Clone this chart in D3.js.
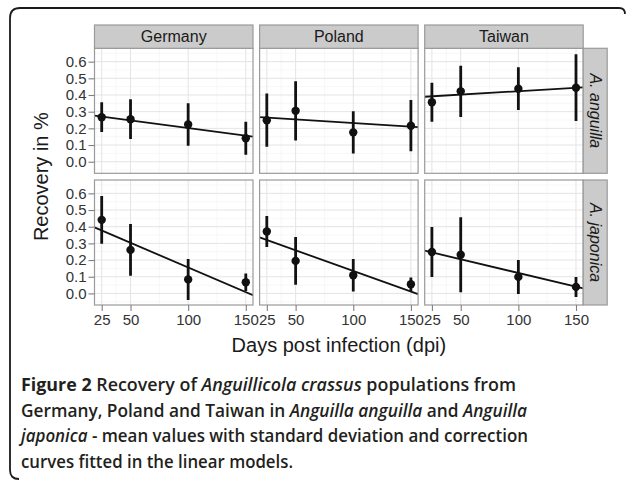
<!DOCTYPE html>
<html>
<head>
<meta charset="utf-8">
<script src="https://cdn.jsdelivr.net/npm/d3@7"></script>
<style>
  body { margin: 0; background: #fff; }
  .tick text { font-family: "Liberation Sans", Arial, sans-serif; }
</style>
</head>
<body>
<div id="chart"></div>
<script>
// facets
const countries = ["Germany", "Poland", "Taiwan"];
const hosts = ["A. anguilla", "A. japonica"];
const days = [25, 50, 100, 150];
const xTicks = [25, 50, 100, 150];
const yTicks = [0, 0.1, 0.2, 0.3, 0.4, 0.5, 0.6];

// mean recovery, one array per host, rows = Germany, Poland, Taiwan
const meanAnguilla = [
    [0.267, 0.255, 0.223, 0.141],
    [0.249, 0.305, 0.176, 0.216],
    [0.357, 0.422, 0.438, 0.444]
];
const meanJaponica = [
    [0.441, 0.261, 0.084, 0.067],
    [0.371, 0.195, 0.109, 0.055],
    [0.248, 0.232, 0.099, 0.039]
];
// standard deviations
const sdAnguilla = [
    [0.089, 0.119, 0.128, 0.099],
    [0.160, 0.178, 0.127, 0.154],
    [0.117, 0.154, 0.128, 0.200]
];
const sdJaponica = [
    [0.143, 0.155, 0.123, 0.053],
    [0.093, 0.143, 0.098, 0.040],
    [0.150, 0.225, 0.102, 0.060]
];
// fitted lines (intercept, slope per day)
const fitInterceptAnguilla = [0.294, 0.275, 0.382];
const fitSlopeAnguilla = [-0.000916, -0.000436, 0.000407];
const fitInterceptJaponica = [0.451, 0.382, 0.287];
const fitSlopeJaponica = [-0.002953, -0.002473, -0.001644];

const captionLines = [
    [["Figure 2 ", "bold"], ["Recovery of ", ""], ["Anguillicola crassus", "italic"], [" populations from", ""]],
    [["Germany, Poland and Taiwan in ", ""], ["Anguilla anguilla", "italic"], [" and ", ""], ["Anguilla", "italic"]],
    [["japonica", "italic"], [" - mean values with standard deviation and correction", ""]],
    [["curves fitted in the linear models.", ""]]
];
const captionWidths = [495, 506, 507, 272];

const width = 627, height = 482;
const plotLeft = 94.5, plotTop = 48.3;
const panelW = 158.5, panelH = 125, gapX = 6.6, gapY = 6.7;
const stripH = 23.3, stripW = 24;

const svg = d3.select("#chart").append("svg")
    .attr("width", width)
    .attr("height", height);

// figure frame (open at bottom right like the journal box)
svg.append("path")
    .attr("d", "M19,479 Q10,479 10,470 L10,18 Q10,8 20,8 L619,8 Q625,8 625,14")
    .attr("fill", "none")
    .attr("stroke", "#1a1a1a")
    .attr("stroke-width", 1.8);

const x = d3.scaleLinear().domain([18.75, 156.25]).range([0, panelW]);
const y = d3.scaleLinear().domain([-0.0695, 0.68]).range([panelH, 0]);

const yMinor = d3.range(-0.05, 0.7, 0.1);
const xMinor = [37.5, 75, 125];

const allMeans = [meanAnguilla, meanJaponica];
const allSd = [sdAnguilla, sdJaponica];
const allIntercept = [fitInterceptAnguilla, fitInterceptJaponica];
const allSlope = [fitSlopeAnguilla, fitSlopeJaponica];

hosts.forEach((host, r) => {
    countries.forEach((country, c) => {
        const px = plotLeft + c * (panelW + gapX);
        const py = plotTop + r * (panelH + gapY);
        const g = svg.append("g").attr("transform", `translate(${px},${py})`);

        g.append("rect")
            .attr("width", panelW).attr("height", panelH)
            .attr("fill", "#fff");

        const clipId = `clip${r}${c}`;
        g.append("clipPath").attr("id", clipId)
            .append("rect").attr("width", panelW).attr("height", panelH);

        // grid
        g.selectAll(".ymin").data(yMinor).join("line")
            .attr("x1", 0).attr("x2", panelW)
            .attr("y1", d => y(d)).attr("y2", d => y(d))
            .attr("stroke", "#f2f2f2").attr("stroke-width", 0.6);
        g.selectAll(".xmin").data(xMinor).join("line")
            .attr("y1", 0).attr("y2", panelH)
            .attr("x1", d => x(d)).attr("x2", d => x(d))
            .attr("stroke", "#f2f2f2").attr("stroke-width", 0.6);
        g.selectAll(".ymaj").data(yTicks).join("line")
            .attr("x1", 0).attr("x2", panelW)
            .attr("y1", d => y(d)).attr("y2", d => y(d))
            .attr("stroke", "#e4e4e4").attr("stroke-width", 1);
        g.selectAll(".xmaj").data(xTicks).join("line")
            .attr("y1", 0).attr("y2", panelH)
            .attr("x1", d => x(d)).attr("x2", d => x(d))
            .attr("stroke", "#e4e4e4").attr("stroke-width", 1);

        const means = allMeans[r][c], sds = allSd[r][c];
        const a = allIntercept[r][c], b = allSlope[r][c];
        const marks = g.append("g").attr("clip-path", `url(#${clipId})`);

        // fitted line
        const xd = x.domain();
        marks.append("line")
            .attr("x1", x(xd[0])).attr("y1", y(a + b * xd[0]))
            .attr("x2", x(xd[1])).attr("y2", y(a + b * xd[1]))
            .attr("stroke", "#111").attr("stroke-width", 1.8);

        // error bars
        marks.selectAll(".err").data(days).join("line")
            .attr("x1", d => x(d)).attr("x2", d => x(d))
            .attr("y1", (d, i) => y(means[i] - sds[i]))
            .attr("y2", (d, i) => y(means[i] + sds[i]))
            .attr("stroke", "#111").attr("stroke-width", 2.8);

        // means
        marks.selectAll(".pt").data(days).join("circle")
            .attr("cx", d => x(d))
            .attr("cy", (d, i) => y(means[i]))
            .attr("r", 4.2)
            .attr("fill", "#111");

        g.append("rect")
            .attr("width", panelW).attr("height", panelH)
            .attr("fill", "none").attr("stroke", "#9a9a9a").attr("stroke-width", 1.2);

        // top strips
        if (r === 0) {
            g.append("rect")
                .attr("y", -stripH).attr("width", panelW).attr("height", stripH)
                .attr("fill", "#cbcbcb").attr("stroke", "#9a9a9a").attr("stroke-width", 1.2);
            g.append("text")
                .attr("x", panelW / 2).attr("y", -stripH / 2 + 5.5)
                .attr("text-anchor", "middle")
                .attr("font-family", "Liberation Sans, Arial, sans-serif")
                .attr("font-size", 16)
                .attr("fill", "#1a1a1a")
                .text(country);
        }
        // right strips
        if (c === countries.length - 1) {
            g.append("rect")
                .attr("x", panelW).attr("width", stripW).attr("height", panelH)
                .attr("fill", "#cbcbcb").attr("stroke", "#9a9a9a").attr("stroke-width", 1.2);
            g.append("text")
                .attr("transform", `translate(${panelW + stripW / 2 - 5.5},${panelH / 2}) rotate(90)`)
                .attr("text-anchor", "middle")
                .attr("font-family", "Liberation Sans, Arial, sans-serif")
                .attr("font-style", "italic")
                .attr("font-size", 16)
                .attr("fill", "#1a1a1a")
                .text(host);
        }
        // y axis
        if (c === 0) {
            const ax = g.append("g")
                .call(d3.axisLeft(y).tickValues(yTicks).tickFormat(d3.format(".1f")).tickSize(6).tickPadding(2));
            ax.select(".domain").remove();
            ax.selectAll(".tick line").attr("stroke", "#7f7f7f").attr("stroke-width", 1.1);
            ax.selectAll(".tick text").attr("font-size", 15).attr("fill", "#333");
        }
        // x axis
        if (r === hosts.length - 1) {
            const ax = g.append("g")
                .attr("transform", `translate(0,${panelH})`)
                .call(d3.axisBottom(x).tickValues(xTicks).tickSize(6).tickPadding(3));
            ax.select(".domain").remove();
            ax.selectAll(".tick line").attr("stroke", "#7f7f7f").attr("stroke-width", 1.1);
            ax.selectAll(".tick text").attr("font-size", 15).attr("fill", "#333");
        }
    });
});

// axis titles
const plotMidX = plotLeft + (3 * panelW + 2 * gapX) / 2;
const plotMidY = plotTop + (2 * panelH + gapY) / 2;
svg.append("text")
    .attr("x", plotMidX).attr("y", 352)
    .attr("text-anchor", "middle")
    .attr("font-family", "Liberation Sans, Arial, sans-serif")
    .attr("font-size", 20)
    .attr("fill", "#1a1a1a")
    .text("Days post infection (dpi)");
svg.append("text")
    .attr("transform", `translate(48,${plotMidY}) rotate(-90)`)
    .attr("text-anchor", "middle")
    .attr("font-family", "Liberation Sans, Arial, sans-serif")
    .attr("font-size", 20)
    .attr("fill", "#1a1a1a")
    .text("Recovery in %");

// caption
const caption = svg.append("g")
    .attr("font-family", "Open Sans, sans-serif")
    .attr("font-size", 17.5)
    .attr("font-weight", 600)
    .attr("fill", "#231f20");
captionLines.forEach((parts, i) => {
    const t = caption.append("text")
        .attr("x", 21).attr("y", 391 + i * 25.5)
        .attr("textLength", captionWidths[i])
        .attr("lengthAdjust", "spacingAndGlyphs");
    parts.forEach(([s, style]) => {
        const span = t.append("tspan").text(s);
        if (style === "bold") span.attr("font-weight", 700);
        if (style === "italic") span.attr("font-style", "italic");
    });
});
</script>
</body>
</html>
